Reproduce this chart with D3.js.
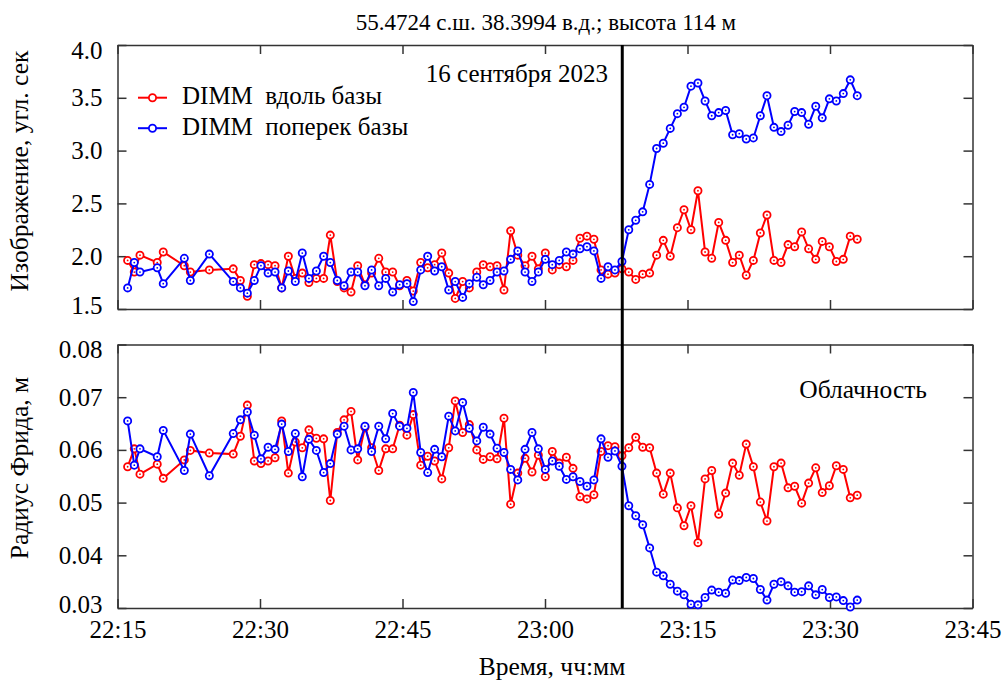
<!DOCTYPE html>
<html lang="ru">
<head>
    <meta charset="UTF-8">
    <title>DIMM</title>
    <style>
        html, body {
            margin: 0;
            padding: 0;
            background: #fff;
        }

        svg {
            display: block;
        }

        svg text {
            font-family: 'Liberation Serif', 'Times New Roman', Times, serif !important;
        }

        .axis path, .axis line {
            stroke: #333;
            stroke-width: 1.5;
        }

        .axis text {
            font-size: 25px;
            fill: #000;
        }
    </style>
</head>
<body>
<svg id="chart" width="1004" height="681"></svg>
<script src="https://cdnjs.cloudflare.com/ajax/libs/d3/7.8.5/d3.min.js"></script>
<script>
    "use strict"

    // моменты измерений
    const times = [
        "22:16:04", "22:16:46", "22:17:22", "22:19:11", "22:19:49", "22:22:02", "22:22:40", "22:24:40", "22:27:11", "22:27:56",
        "22:28:40", "22:29:24", "22:30:06", "22:30:51", "22:31:35", "22:32:17", "22:32:59", "22:33:43", "22:34:27", "22:35:09",
        "22:35:56", "22:36:42", "22:37:24", "22:38:08", "22:38:51", "22:39:35", "22:40:17", "22:41:03", "22:41:45", "22:42:30",
        "22:43:14", "22:43:58", "22:44:42", "22:45:28", "22:46:08", "22:46:55", "22:47:39", "22:48:23", "22:49:08", "22:49:52",
        "22:50:33", "22:51:20", "22:52:02", "22:52:49", "22:53:30", "22:54:13", "22:54:57", "22:55:41", "22:56:23", "22:57:08",
        "22:57:54", "22:58:38", "22:59:18", "23:00:02", "23:00:46", "23:01:30", "23:02:15", "23:02:57", "23:03:41", "23:04:25",
        "23:05:09", "23:05:54", "23:06:38", "23:07:22", "23:08:06", "23:08:49", "23:09:33", "23:10:17", "23:11:01", "23:11:45",
        "23:12:27", "23:13:11", "23:13:56", "23:14:38", "23:15:22", "23:16:06", "23:16:51", "23:17:33", "23:18:17", "23:19:01",
        "23:19:45", "23:20:27", "23:21:11", "23:21:56", "23:22:40", "23:23:22", "23:24:06", "23:24:51", "23:25:35", "23:26:17",
        "23:27:01", "23:27:45", "23:28:30", "23:29:11", "23:29:56", "23:30:40", "23:31:24", "23:32:08", "23:32:52"
    ];

    // изображение, угл. сек
    const seeingAlong = [
        1.96, 1.85, 2.01, 1.94, 2.04, 1.91, 1.85, 1.87, 1.88, 1.77,
        1.62, 1.92, 1.93, 1.92, 1.91, 1.70, 2.00, 1.79, 1.84, 1.75,
        1.79, 1.79, 2.20, 1.76, 1.70, 1.66, 1.91, 1.73, 1.84, 1.98,
        1.85, 1.85, 1.72, 1.77, 1.67, 1.94, 1.89, 1.92, 2.03, 1.84,
        1.60, 1.76, 1.70, 1.85, 1.92, 1.90, 1.91, 1.68, 2.24, 2.01,
        1.91, 2.00, 1.88, 2.03, 1.87, 1.92, 1.90, 1.96, 2.17, 2.19,
        2.16, 1.87, 1.83, 1.84, 1.88, 1.85, 1.78, 1.83, 1.84, 2.01,
        2.15, 2.00, 2.27, 2.44, 2.25, 2.62, 2.04, 1.98, 2.32, 2.15,
        1.94, 2.01, 1.82, 1.96, 2.22, 2.39, 1.96, 1.94, 2.11, 2.09,
        2.23, 2.07, 1.97, 2.14, 2.09, 1.95, 1.97, 2.19, 2.16
    ];
    const seeingAcross = [
        1.70, 1.94, 1.85, 1.89, 1.74, 1.98, 1.77, 2.02, 1.76, 1.70,
        1.65, 1.77, 1.91, 1.84, 1.85, 1.70, 1.86, 1.76, 2.03, 1.79,
        1.86, 2.00, 1.94, 1.77, 1.72, 1.85, 1.85, 1.72, 1.87, 1.72,
        1.79, 1.66, 1.73, 1.74, 1.57, 1.87, 2.00, 1.86, 1.90, 1.68,
        1.76, 1.61, 1.74, 1.80, 1.73, 1.77, 1.85, 1.86, 1.97, 2.05,
        1.85, 1.76, 1.85, 1.97, 1.92, 1.96, 2.04, 2.02, 2.07, 2.09,
        2.05, 1.79, 1.90, 1.87, 1.95, 2.25, 2.34, 2.42, 2.68, 3.02,
        3.07, 3.21, 3.35, 3.41, 3.61, 3.64, 3.47, 3.33, 3.36, 3.38,
        3.15, 3.16, 3.11, 3.12, 3.33, 3.52, 3.22, 3.18, 3.24, 3.37,
        3.36, 3.25, 3.42, 3.31, 3.49, 3.47, 3.54, 3.67, 3.52
    ];

    // радиус Фрида, м
    const friedAlong = [
        0.0568, 0.0602, 0.0554, 0.0573, 0.0546, 0.0581, 0.0599, 0.0594, 0.0592, 0.0626,
        0.0685, 0.0579, 0.0574, 0.0579, 0.0585, 0.0655, 0.0556, 0.0615, 0.0604, 0.0638,
        0.0622, 0.0621, 0.0504, 0.0633, 0.0657, 0.0673, 0.0581, 0.0643, 0.0604, 0.0561,
        0.0602, 0.0602, 0.0647, 0.0628, 0.0667, 0.0571, 0.0588, 0.0579, 0.0545, 0.0604,
        0.0693, 0.0633, 0.0648, 0.0600, 0.0582, 0.0587, 0.0583, 0.0660, 0.0497, 0.0556,
        0.0584, 0.0558, 0.0590, 0.0549, 0.0597, 0.0575, 0.0586, 0.0565, 0.0511, 0.0507,
        0.0515, 0.0597, 0.0608, 0.0606, 0.0589, 0.0604, 0.0624, 0.0605, 0.0604, 0.0556,
        0.0516, 0.0556, 0.0490, 0.0456, 0.0494, 0.0424, 0.0545, 0.0561, 0.0478, 0.0518,
        0.0575, 0.0552, 0.0611, 0.0568, 0.0501, 0.0465, 0.0568, 0.0575, 0.0528, 0.0531,
        0.0499, 0.0537, 0.0566, 0.0519, 0.0532, 0.0570, 0.0563, 0.0509, 0.0514
    ];
    const friedAcross = [
        0.0655, 0.0571, 0.0602, 0.0587, 0.0637, 0.0561, 0.0630, 0.0551, 0.0631, 0.0657,
        0.0672, 0.0628, 0.0583, 0.0605, 0.0601, 0.0649, 0.0597, 0.0631, 0.0549, 0.0620,
        0.0599, 0.0557, 0.0574, 0.0630, 0.0645, 0.0600, 0.0602, 0.0645, 0.0597, 0.0645,
        0.0621, 0.0669, 0.0645, 0.0641, 0.0709, 0.0595, 0.0557, 0.0601, 0.0587, 0.0664,
        0.0636, 0.0690, 0.0641, 0.0617, 0.0643, 0.0630, 0.0603, 0.0595, 0.0563, 0.0543,
        0.0601, 0.0633, 0.0602, 0.0563, 0.0579, 0.0569, 0.0544, 0.0549, 0.0540, 0.0531,
        0.0543, 0.0621, 0.0586, 0.0598, 0.0569, 0.0494, 0.0475, 0.0458, 0.0414, 0.0368,
        0.0361, 0.0345, 0.0332, 0.0325, 0.0307, 0.0306, 0.0320, 0.0334, 0.0330, 0.0328,
        0.0353, 0.0352, 0.0358, 0.0356, 0.0335, 0.0315, 0.0345, 0.0350, 0.0342, 0.0330,
        0.0331, 0.0342, 0.0325, 0.0335, 0.0320, 0.0321, 0.0314, 0.0302, 0.0315
    ];

    const xTicks = ["22:15:00", "22:30:00", "22:45:00", "23:00:00", "23:15:00", "23:30:00", "23:45:00"];
    const seeingTicks = [1.5, 2.0, 2.5, 3.0, 3.5, 4.0];
    const friedTicks = [0.03, 0.04, 0.05, 0.06, 0.07, 0.08];
    const cloudTime = "23:08:08";

    const seriesNames = ["DIMM  вдоль базы", "DIMM  поперек базы"];
    const colors = ["#ff0000", "#0000ff"];

    /**
     *  Рисование
     */
    const parse = d3.timeParse("%H:%M:%S");
    const svg = d3.select("#chart");
    const serif = "'Liberation Serif', 'Times New Roman', Times, serif";

    const left = 117.5, right = 972.5;
    const x = d3.scaleTime()
        .domain([parse(xTicks[0]), parse(xTicks[xTicks.length - 1])])
        .range([left, right]);

    const panels = [
        {top: 45, bottom: 309, domain: [1.5, 4.0], ticks: seeingTicks, fmt: d3.format(".1f"),
            series: [seeingAlong, seeingAcross], labels: false},
        {top: 344.5, bottom: 608, domain: [0.03, 0.08], ticks: friedTicks, fmt: d3.format(".2f"),
            series: [friedAlong, friedAcross], labels: true}
    ];

    panels.forEach(p => {
        const y = d3.scaleLinear().domain(p.domain).range([p.bottom, p.top]);
        p.y = y;

        svg.append("g").attr("class", "axis")
            .attr("transform", `translate(0,${p.bottom})`)
            .call(d3.axisBottom(x).tickValues(xTicks.map(parse)).tickSize(-9).tickSizeOuter(0)
                .tickPadding(12).tickFormat(p.labels ? d3.timeFormat("%H:%M") : ""));
        svg.append("g").attr("class", "axis")
            .attr("transform", `translate(0,${p.top})`)
            .call(d3.axisTop(x).tickValues(xTicks.map(parse)).tickSize(-9).tickSizeOuter(0).tickFormat(""));

        const yl = svg.append("g").attr("class", "axis")
            .attr("transform", `translate(${left},0)`)
            .call(d3.axisLeft(y).tickValues(p.ticks).tickSize(-9).tickSizeOuter(0).tickPadding(15).tickFormat(p.fmt));
        // крайние подписи немного сдвинуты внутрь
        yl.selectAll(".tick text").attr("dy", (d, i) => i === 0 ? "0.18em" : (i === p.ticks.length - 1 ? "0.52em" : "0.32em"));

        svg.append("g").attr("class", "axis")
            .attr("transform", `translate(${right},0)`)
            .call(d3.axisRight(y).tickValues(p.ticks).tickSize(-9).tickSizeOuter(0).tickFormat(""));

        svg.selectAll(".axis").attr("font-family", serif);

        p.series.forEach((vals, k) => {
            const pts = times.map((t, i) => [x(parse(t)), y(vals[i])]);
            svg.append("path")
                .attr("d", d3.line()(pts))
                .attr("fill", "none")
                .attr("stroke", colors[k])
                .attr("stroke-width", 2);
            const g = svg.append("g");
            g.selectAll("circle.m")
                .data(pts)
                .enter()
                .append("circle")
                .attr("cx", d => d[0])
                .attr("cy", d => d[1])
                .attr("r", 3.6)
                .attr("fill", "#fff")
                .attr("stroke", colors[k])
                .attr("stroke-width", 1.8);
            g.selectAll("circle.c")
                .data(pts)
                .enter()
                .append("circle")
                .attr("cx", d => d[0])
                .attr("cy", d => d[1])
                .attr("r", 0.9)
                .attr("fill", colors[k]);
        });
    });

    // вертикальная линия - начало облачности
    svg.append("line")
        .attr("x1", x(parse(cloudTime)))
        .attr("x2", x(parse(cloudTime)))
        .attr("y1", panels[0].top)
        .attr("y2", panels[1].bottom)
        .attr("stroke", "#000")
        .attr("stroke-width", 3);

    // легенда
    seriesNames.forEach((name, k) => {
        const ly = 97.7 + k * 30.5;
        svg.append("line")
            .attr("x1", 138).attr("x2", 167)
            .attr("y1", ly).attr("y2", ly)
            .attr("stroke", colors[k]).attr("stroke-width", 2);
        svg.append("circle")
            .attr("cx", 152.5).attr("cy", ly).attr("r", 3.6)
            .attr("fill", "#fff").attr("stroke", colors[k]).attr("stroke-width", 1.8);
        svg.append("text")
            .attr("x", 182).attr("y", ly + 6.5)
            .attr("font-family", serif)
            .attr("font-size", "25px")
            .style("white-space", "pre")
            .text(name);
    });

    svg.append("text")
        .attr("x", 546).attr("y", 30)
        .attr("text-anchor", "middle")
        .attr("font-family", serif)
        .attr("font-size", "23px")
        .text("55.4724 с.ш. 38.3994 в.д.; высота 114 м");

    svg.append("text")
        .attr("x", 608).attr("y", 82)
        .attr("text-anchor", "end")
        .attr("font-family", serif)
        .attr("font-size", "25px")
        .text("16 сентября 2023");

    svg.append("text")
        .attr("x", 927).attr("y", 398)
        .attr("text-anchor", "end")
        .attr("font-family", serif)
        .attr("font-size", "25.5px")
        .text("Облачность");

    svg.append("text")
        .attr("transform", "translate(28,171) rotate(-90)")
        .attr("text-anchor", "middle")
        .attr("font-family", serif)
        .attr("font-size", "25.5px")
        .text("Изображение, угл. сек");

    svg.append("text")
        .attr("transform", "translate(28,468) rotate(-90)")
        .attr("text-anchor", "middle")
        .attr("font-family", serif)
        .attr("font-size", "25.5px")
        .text("Радиус Фрида, м");

    svg.append("text")
        .attr("x", 552).attr("y", 675)
        .attr("text-anchor", "middle")
        .attr("font-family", serif)
        .attr("font-size", "25.5px")
        .text("Время, чч:мм");
</script>
</body>
</html>
